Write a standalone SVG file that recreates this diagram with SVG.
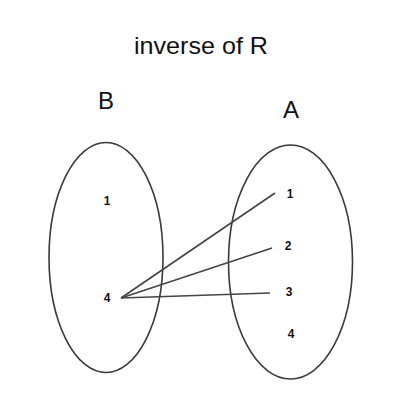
<svg xmlns="http://www.w3.org/2000/svg" width="403" height="405" viewBox="0 0 403 405">
<style>
.set{fill:none;stroke:#3a3a3a;stroke-width:1.6}
.lbl{font-family:"Liberation Sans",Arial,sans-serif;fill:#111}
.big{font-size:24px}
.num{font-size:12px;font-weight:bold;text-anchor:middle}
.edge{stroke:#444;stroke-width:1.6;fill:none}
</style>
<rect width="403" height="405" fill="#fff"/>
<text class="lbl big" x="201" y="54" text-anchor="middle" textLength="134" lengthAdjust="spacingAndGlyphs">inverse of R</text>
<g id="setB">
<ellipse class="set" cx="106" cy="257.5" rx="57" ry="115"/>
<text class="lbl big" x="98" y="109">B</text>
<text class="lbl num" x="107" y="205">1</text>
<text class="lbl num" x="107" y="302">4</text>
</g>
<g id="setA">
<ellipse class="set" cx="290.5" cy="262" rx="62" ry="117"/>
<text class="lbl big" x="283" y="118">A</text>
<text class="lbl num" x="290" y="198">1</text>
<text class="lbl num" x="288" y="250">2</text>
<text class="lbl num" x="289" y="296">3</text>
<text class="lbl num" x="291" y="338">4</text>
</g>
<g id="connectors">
<line class="edge" x1="121" y1="298" x2="275" y2="193"/>
<line class="edge" x1="121" y1="298" x2="272" y2="248"/>
<line class="edge" x1="121" y1="298" x2="270" y2="293"/>
</g>
</svg>
